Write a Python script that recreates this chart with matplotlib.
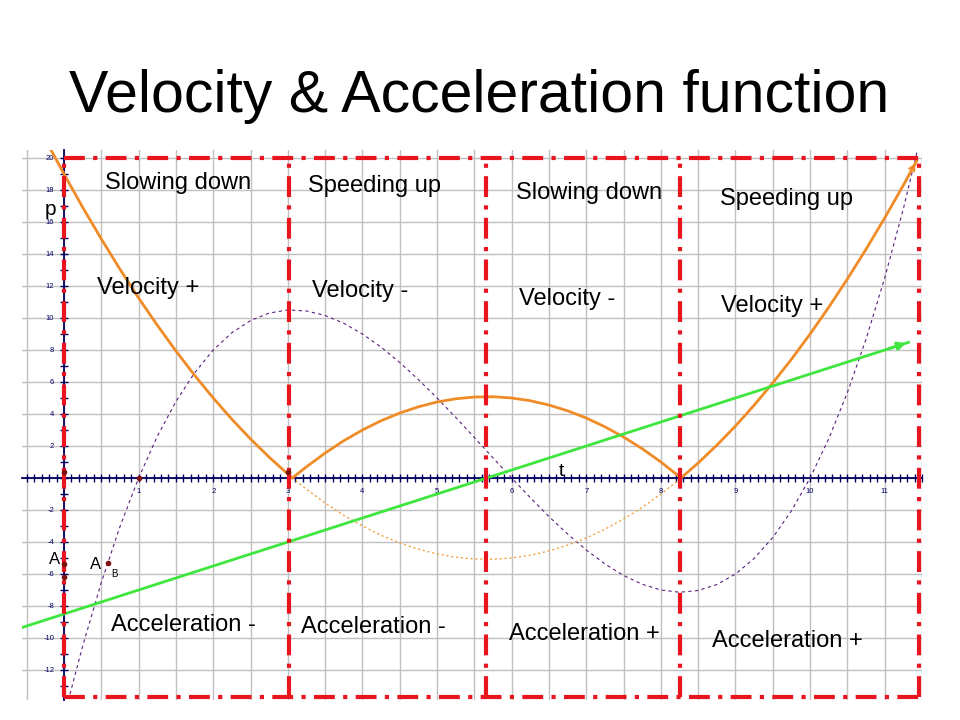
import numpy as np
import matplotlib
matplotlib.use('Agg')
import matplotlib.pyplot as plt

plt.rcParams['font.family'] = ['Liberation Sans', 'DejaVu Sans']
plt.rcParams['axes.unicode_minus'] = False

# ---- data ----
# speed |v| and velocity v (orange)
t_v = [-0.2, 0.0, 0.25, 0.5, 0.75, 1.0, 1.25, 1.5, 1.75, 2.0, 2.25, 2.5, 2.75, 3.0, 3.06,
       3.25, 3.5, 3.75, 4.0, 4.25, 4.5, 4.75, 5.0, 5.25, 5.5, 5.75, 6.0, 6.25, 6.5, 6.75,
       7.0, 7.25, 7.5, 7.75, 8.0, 8.25, 8.27, 8.5, 8.75, 9.0, 9.25, 9.5, 9.75, 10.0,
       10.25, 10.5, 10.75, 11.0, 11.25, 11.43]
v = [20.73, 19.0, 16.92, 14.94, 13.05, 11.25, 9.55, 7.94, 6.42, 5.0, 3.67, 2.44, 1.30, 0.25, 0.0,
     -0.70, -1.56, -2.33, -3.0, -3.58, -4.06, -4.45, -4.75, -4.95, -5.06, -5.08, -5.0, -4.83, -4.56, -4.20,
     -3.75, -3.20, -2.56, -1.83, -1.0, -0.08, 0.0, 0.94, 2.05, 3.25, 4.55, 5.94, 7.42, 9.0,
     10.67, 12.44, 14.30, 16.25, 18.30, 19.83]
speed = [abs(x) for x in v]

# position p (purple dashed)
t_p = [0.08, 0.25, 0.5, 0.75, 1.0, 1.25, 1.5, 1.75, 2.0, 2.25, 2.5, 2.75, 3.0, 3.25, 3.5,
       3.75, 4.0, 4.25, 4.5, 4.75, 5.0, 5.25, 5.5, 5.75, 6.0, 6.25, 6.5, 6.75, 7.0, 7.25,
       7.5, 7.75, 8.0, 8.25, 8.5, 8.75, 9.0, 9.25, 9.5, 9.75, 10.0, 10.25, 10.5, 10.75,
       11.0, 11.25, 11.5]
p = [-13.51, -10.51, -6.53, -3.04, 0.0, 2.60, 4.78, 6.57, 8.0, 9.08, 9.84, 10.31, 10.5, 10.44, 10.16,
     9.67, 9.0, 8.18, 7.22, 6.15, 5.0, 3.79, 2.53, 1.26, 0.0, -1.23, -2.41, -3.50, -4.50, -5.37,
     -6.09, -6.64, -7.0, -7.14, -7.03, -6.66, -6.0, -5.03, -3.72, -2.05, 0.0, 2.46, 5.34, 8.68,
     12.5, 16.82, 21.66]

# acceleration a (green line)
t_a = [-0.56, 11.32]
a = [-9.34, 8.48]

# interval borders (red dash-dot boxes)
borders = [0.0, 3.02, 5.65, 8.25, 11.46]
box_top, box_bottom = 20.0, -13.7

top_labels = ['Slowing down', 'Speeding up', 'Slowing down', 'Speeding up']
vel_labels = ['Velocity +', 'Velocity -', 'Velocity -', 'Velocity +']
acc_labels = ['Acceleration -', 'Acceleration -', 'Acceleration +', 'Acceleration +']

# ---- figure ----
fig = plt.figure(figsize=(9.6, 7.2), dpi=100)
W, H = 960, 720

def px(x, y):
    return x / W, 1 - y / H

fig.text(*px(479, 112), 'Velocity & Acceleration function', fontsize=42.5,
         ha='center', va='baseline')

ax = fig.add_axes([22 / W, 1 - 700 / H, 900 / W, 550 / H])
ax.set_xlim(-0.563, 11.5)
ax.set_ylim(-13.875, 20.5)

# grid
for gx in np.arange(-0.5, 11.51, 0.5):
    ax.axvline(gx, color='#c0c0c0', lw=1, zorder=0)
for gy in np.arange(-12, 20.1, 2):
    ax.axhline(gy, color='#c0c0c0', lw=1, zorder=0)

# axes through origin
axis_col = '#000060'
for s in ['top', 'right']:
    ax.spines[s].set_visible(False)
ax.spines['left'].set_position(('data', 0))
ax.spines['bottom'].set_position(('data', 0))
for s in ['left', 'bottom']:
    ax.spines[s].set_color(axis_col)
    ax.spines[s].set_linewidth(1.3)
    ax.spines[s].set_zorder(2)

ax.set_xticks(range(1, 12))
ax.set_xticks(np.arange(-0.5, 11.51, 0.1), minor=True)
ax.set_yticks([y for y in range(-12, 21, 2) if y != 0])
ax.set_yticks(range(-13, 21), minor=True)
ax.tick_params(which='both', direction='inout', length=6, width=1, color=axis_col,
               labelcolor=axis_col, labelsize=5.5, pad=4)

# curves
ax.plot(t_p, p, color='#5a2080', lw=0.8, ls=(0, (3, 3)), zorder=3)
ax.plot(t_v, v, color='#f0a040', lw=1, ls=(0, (1.5, 2)), zorder=3)
ax.plot(t_v, speed, color='#f08c28', lw=2, zorder=4)
ax.annotate('', xy=(t_v[-1], speed[-1]), xytext=(t_v[-2], speed[-2]),
            arrowprops=dict(arrowstyle='->', color='#f08c28', lw=1.5,
                            mutation_scale=10), zorder=4)
ax.plot(t_a, a, color='#3ee63e', lw=2, zorder=4)
ax.annotate('', xy=(t_a[-1], a[-1]), xytext=(t_a[-1] - 0.3, a[-1] - 0.45),
            arrowprops=dict(arrowstyle='-|>', color='#3ee63e', lw=2,
                            mutation_scale=12), zorder=4)

# red boxes
red_ls = (0, (5, 2, 1, 2))
for b in borders:
    ax.plot([b, b], [box_bottom, box_top], color='#e8141e', lw=3, ls=red_ls,
            zorder=5, clip_on=False)
ax.plot([borders[0], borders[-1]], [box_top, box_top], color='#e8141e', lw=3,
        ls=red_ls, zorder=5, clip_on=False)
ax.plot([borders[0], borders[-1]], [box_bottom, box_bottom], color='#e8141e', lw=3,
        ls=red_ls, zorder=5, clip_on=False)

# points
ax.plot([0, 1, 3.0, 0, 0, 0.59], [0.4, 0, 0.35, -5.4, -6.2, -5.3], 'o',
        color='#801010', ms=3, zorder=6)

# labels in slide coordinates
fig.text(*px(50, 215), 'p', fontsize=15, ha='center', va='baseline')
fig.text(*px(561, 476), 't', fontsize=14, ha='center', va='baseline')
fig.text(*px(55, 564), 'A', fontsize=12, ha='center', va='baseline')
fig.text(*px(96, 569), 'A', fontsize=12, ha='center', va='baseline')
fig.text(*px(114, 577), 'B', fontsize=7, ha='center', va='baseline')

top_pos = [(178, 189), (375, 192), (589, 199), (786, 205)]
vel_pos = [(148, 294), (360, 297), (567, 305), (772, 312)]
acc_pos = [(183, 631), (373, 633), (584, 640), (787, 647)]
for lab, (x, y) in zip(top_labels, top_pos):
    fig.text(*px(x, y), lab, fontsize=17, ha='center', va='baseline')
for lab, (x, y) in zip(vel_labels, vel_pos):
    fig.text(*px(x, y), lab, fontsize=17, ha='center', va='baseline')
for lab, (x, y) in zip(acc_labels, acc_pos):
    fig.text(*px(x, y), lab, fontsize=17, ha='center', va='baseline')

fig.savefig('out.png', dpi=100, facecolor='white')
